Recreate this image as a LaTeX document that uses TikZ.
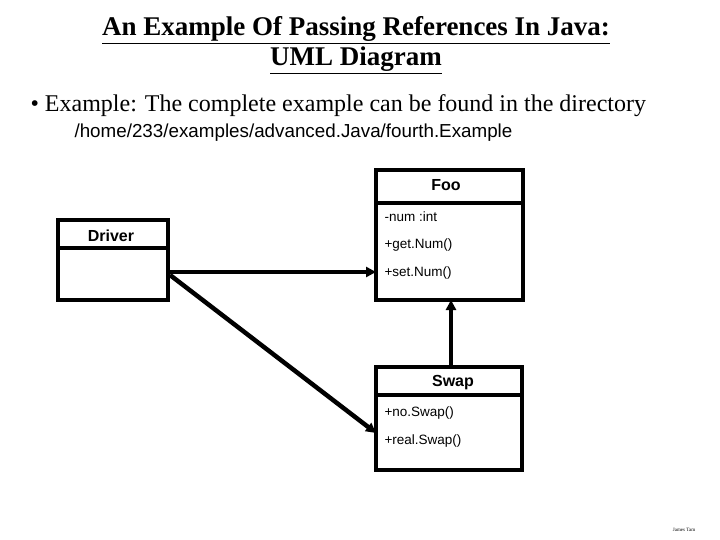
\documentclass[tikz,border=0pt]{standalone}
\usepackage{fontspec}
\setmainfont{Liberation Serif}
\newfontfamily\arial{Liberation Sans}
\usetikzlibrary{arrows.meta}
\begin{document}
\begin{tikzpicture}[x=1pt,y=-1pt,
  box/.style={draw,line width=3.5pt},
  conn/.style={line width=4.5pt,-{Triangle[length=10pt,width=10pt]}},
  ttl/.style={font=\fontsize{16}{18}\selectfont\bfseries\arial},
  mem/.style={anchor=west,font=\fontsize{13.5}{15}\selectfont\arial}]
\useasboundingbox (0,0) rectangle (720,540);
\node (t1) at (356,30) {\fontsize{27}{29}\selectfont\bfseries\underline{An Example Of Passing References In Java:}};
\node (t2) at (356,60) {\fontsize{27}{29}\selectfont\bfseries\underline{UML Diagram}};
\node[anchor=west] (b) at (27,106) {\fontsize{24}{26}\selectfont • Example: The complete example can be found in the directory};
\node[anchor=west] (p) at (71,133) {\fontsize{18.8}{20}\selectfont\arial /home/233/examples/advanced.Java/fourth.Example};
% Foo
\draw[box] (376,170) rectangle (523,300);
\draw[box] (376,203) -- (523,203);
\node[ttl] (foo) at (446,185) {Foo};
\node[mem] (m1) at (381,217) {-num :int};
\node[mem] (m2) at (381,245) {+get.Num()};
\node[mem] (m3) at (381,273) {+set.Num()};
\coordinate (fooL) at (376,272);
\coordinate (fooB) at (451,300);
% Driver
\draw[box] (58,220) rectangle (168,300);
\draw[box] (58,248) -- (168,248);
\node[ttl] (drv) at (111,236) {Driver};
\coordinate (drvR) at (168,272);
\coordinate (drvR2) at (170,275);
% Swap
\draw[box] (376,367) rectangle (522,470);
\draw[box] (376,395) -- (522,395);
\node[ttl] (swp) at (453,383) {Swap};
\node[mem] (s1) at (381,413) {+no.Swap()};
\node[mem] (s2) at (381,441) {+real.Swap()};
\coordinate (swL) at (376,433);
\coordinate (swT) at (451,367);
\draw[conn] (drvR) -- (fooL);
\draw[conn] (drvR2) -- (swL);
\draw[conn] (swT) -- (fooB);
\node (sig) at (684,530) {\fontsize{5}{6}\selectfont James Tam};
\end{tikzpicture}
\end{document}
